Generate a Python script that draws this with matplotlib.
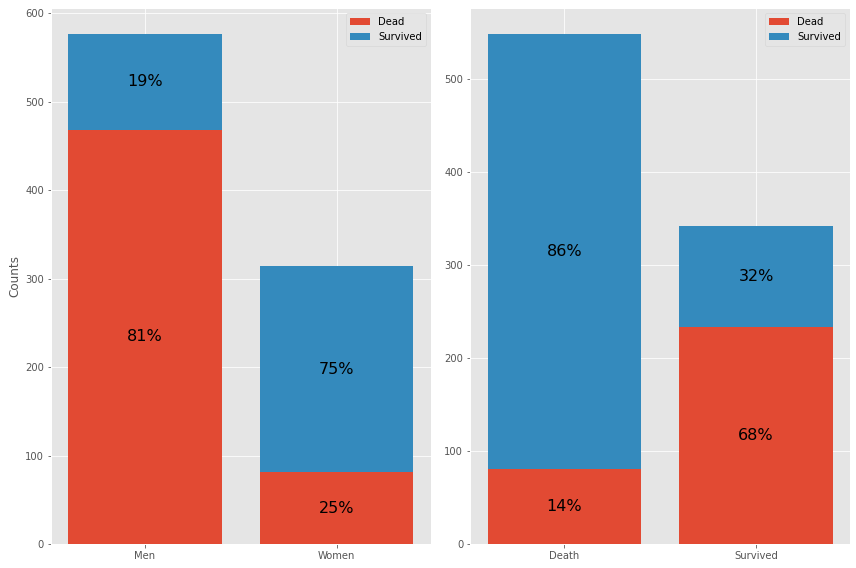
import numpy as np
import matplotlib
matplotlib.use('Agg')
import matplotlib.pyplot as plt

plt.style.use('ggplot')

# left panel: by sex
sex_labels = ['Men', 'Women']
sex_dead = [468, 81]
sex_surv = [109, 233]
sex_pct_dead = ['81%', '25%']
sex_pct_surv = ['19%', '75%']

# right panel: by outcome
out_labels = ['Death', 'Survived']
out_dead = [81, 233]
out_surv = [468, 109]
out_pct_dead = ['14%', '68%']
out_pct_surv = ['86%', '32%']

fig, axes = plt.subplots(1, 2, figsize=(856/72, 568/72), dpi=72)
fig.subplots_adjust(left=51/856, right=850/856, top=1-8/568, bottom=1-544/568, wspace=0.104)

panels = [
    (axes[0], sex_labels, sex_dead, sex_surv, sex_pct_dead, sex_pct_surv),
    (axes[1], out_labels, out_dead, out_surv, out_pct_dead, out_pct_surv),
]

for ax, labels, dead, surv, pd_, ps_ in panels:
    x = np.arange(len(labels))
    dead = np.array(dead)
    surv = np.array(surv)
    ax.bar(x, dead, color='#E24A33', label='Dead')
    ax.bar(x, surv, bottom=dead, color='#348ABD', label='Survived')
    for i in range(len(x)):
        ax.text(x[i], dead[i]/2, pd_[i], ha='center', va='center', fontsize=16)
        ax.text(x[i], dead[i] + surv[i]/2, ps_[i], ha='center', va='center', fontsize=16)
    ax.set_xticks(x)
    ax.set_xticklabels(labels)
    ax.legend(loc='upper right')

axes[0].set_ylabel('Counts')

plt.savefig('out.png', dpi=72)
